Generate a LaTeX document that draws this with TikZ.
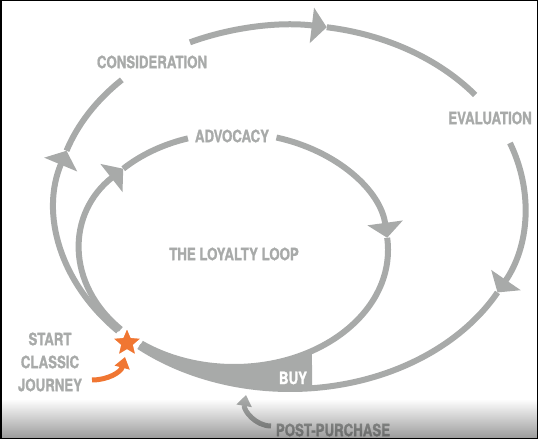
\documentclass[tikz,border=0pt]{standalone}
\usepackage{fontspec}
\setmainfont{TeX Gyre Heros}[FakeStretch=0.78,BoldFeatures={FakeBold=1.2}]
\usetikzlibrary{arrows.meta,shapes.geometric,fadings}
\definecolor{loopgray}{RGB}{168,170,169}
\definecolor{starorange}{RGB}{240,118,50}
\tikzfading[name=fadedown,top color=transparent!100,middle color=transparent!85,bottom color=transparent!0]

\begin{document}
\begin{tikzpicture}[x=1pt,y=1pt,
            loop/.style={draw=loopgray,line width=6pt},
            tip/.style={-{Triangle[width=35pt,length=15pt]}},
            stage/.style={text=loopgray,font=\bfseries\fontsize{17}{23}\selectfont,inner sep=0pt,align=center},
            hint/.style={line width=5pt,-{Triangle[width=15pt,length=11pt]}}]

            \useasboundingbox (0,0) rectangle (538,439);
            \coordinate (O) at (290,232);
            \coordinate (I) at (234,189);

            % classic journey, outer loop
            \draw[loop,tip] ([shift={(223:235pt and 182pt)}]O) arc[start angle=223,end angle=162,x radius=235pt,y radius=182pt];
            \draw[loop] ([shift={(162:235pt and 182pt)}]O) arc[start angle=162,end angle=135.7,x radius=235pt,y radius=182pt];
            \draw[loop,tip] ([shift={(115.2:235pt and 182pt)}]O) arc[start angle=115.2,end angle=81,x radius=235pt,y radius=182pt];
            \draw[loop] ([shift={(81:235pt and 182pt)}]O) arc[start angle=81,end angle=38,x radius=235pt,y radius=182pt];
            \draw[loop,tip] ([shift={(20.6:235pt and 182pt)}]O) arc[start angle=20.6,end angle=-28,x radius=235pt,y radius=182pt];
            \draw[loop] ([shift={(-28:235pt and 182pt)}]O) arc[start angle=-28,end angle=-130,x radius=235pt,y radius=182pt];

            % loyalty loop, inner
            \draw[loop,tip] ([shift={(222.7:154pt and 117pt)}]I) arc[start angle=222.7,end angle=136,x radius=154pt,y radius=117pt];
            \draw[loop] ([shift={(136:154pt and 117pt)}]I) arc[start angle=136,end angle=107.4,x radius=154pt,y radius=117pt];
            \draw[loop,tip] ([shift={(74:154pt and 117pt)}]I) arc[start angle=74,end angle=6,x radius=154pt,y radius=117pt];
            \draw[loop] ([shift={(6:154pt and 117pt)}]I) arc[start angle=6,end angle=-127,x radius=154pt,y radius=117pt];

            \fill[loopgray] ([shift={(-130:235pt and 182pt)}]O) arc[start angle=-130,end angle=-84.6,x radius=235pt,y radius=182pt]
                -- ([shift={(-59.6:154pt and 117pt)}]I) arc[start angle=-59.6,end angle=-127,x radius=154pt,y radius=117pt] -- cycle;

            \node[star,star points=5,star point ratio=2.2,fill=starorange,draw=white,line width=2.5pt,minimum size=34pt,inner sep=0pt] (start) at (127,96) {};

            \coordinate (jfrom) at (92,59);
            \coordinate (jto) at (125,82);
            \draw[hint,draw=starorange] (jfrom) to[out=0,in=-105] (jto);

            \coordinate (pfrom) at (271,13);
            \coordinate (pto) at (246,44);
            \draw[hint,draw=loopgray] (pfrom) to[out=180,in=-100] (pto);

            \node[stage] (consideration) at (152,377) {CONSIDERATION};
            \node[stage] (evaluation) at (490,321) {EVALUATION};
            \node[stage] (advocacy) at (232,303) {ADVOCACY};
            \node[stage] (loyalty) at (234,185) {THE LOYALTY LOOP};
            \node[stage] (classic) at (50,77) {START\\CLASSIC\\JOURNEY};
            \node[stage,text=white] (buy) at (293,61) {BUY};
            \node[stage] (post) at (333,9) {POST-PURCHASE};

            \fill[black,opacity=0.4,path fading=fadedown] (0,0) rectangle (538,40);
            \draw[line width=1.5pt] (0.75,0.75) rectangle (537.25,438.25);
        \end{tikzpicture}
\end{document}
